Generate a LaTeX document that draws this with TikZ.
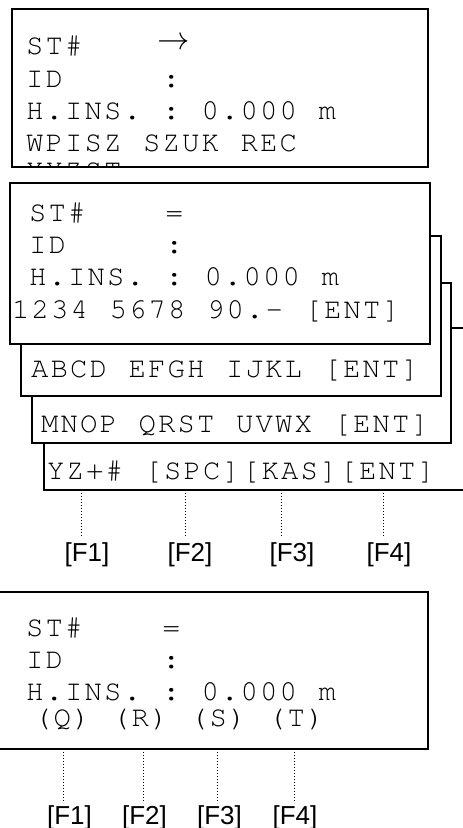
\documentclass[tikz,border=0pt]{standalone}
\usepackage{fontspec}
\setsansfont{Liberation Sans}
\newfontfamily\lcdfont{TeX Gyre Cursor}
\ExplSyntaxOn
\NewDocumentCommand\lcd{m}{\tl_map_inline:nn {#1} {\makebox[19.5pt][c]{##1}}}
\ExplSyntaxOff
\tikzset{
  lcdtext/.style={font=\lcdfont\fontsize{29}{29}\selectfont, anchor=base west, inner sep=0pt, outer sep=0pt},
  fkey/.style={font=\sffamily\fontsize{26}{26}\selectfont, anchor=base, inner sep=0pt},
  frameA/.style={draw, line width=2pt, fill=white},
  frameB/.style={draw, line width=1.3pt, fill=white},
  dots/.style={dotted, line width=1pt}
}
\begin{document}
\begin{tikzpicture}[x=1pt,y=-1pt]
\useasboundingbox (0,0) rectangle (463,828);
% ---------- screen 1 ----------
\fill[white] (12,9) rectangle (428,167);
\begin{scope}
\clip (12,9) rectangle (428,167);
\node[lcdtext] (a1) at (25,54) {\lcd{ST\#}};
\node[inner sep=0pt] (a1arr) at (173.5,44) {\fontsize{26}{26}\selectfont\scalebox{1.3}{$\rightarrow$}};
\node[lcdtext] (a2) at (25,87) {\lcd{ID\ \ \ \ \ :}};
\node[lcdtext] (a3) at (25,119) {\lcd{H.INS.\ :\ 0.000\ m}};
\node[lcdtext] (a4) at (25,151) {\lcd{WPISZ\ SZUK\ REC}};
\node[lcdtext] (a5) at (25,179) {\lcd{XYZST}};
\end{scope}
\draw[line width=2pt] (12,9) rectangle (428,167);
% ---------- screen 2 stack ----------
\draw[frameB] (44,328) rectangle (475,490);
\node[lcdtext] (d1) at (46,479) {\lcd{YZ+\#\ [SPC][KAS][ENT]}};
\draw[frameB] (32,283) rectangle (451,443);
\node[lcdtext] (c1) at (40,432) {\lcd{MNOP\ QRST\ UVWX\ [ENT]}};
\draw[frameB] (21,236) rectangle (441,396);
\node[lcdtext] (b1) at (30,377) {\lcd{ABCD\ EFGH\ IJKL\ [ENT]}};
\draw[frameB] (10,183) rectangle (430,344);
\node[lcdtext] (e1) at (28,221) {\lcd{ST\#\ \ \ \ =}};
\node[lcdtext] (e2) at (28,253) {\lcd{ID\ \ \ \ \ :}};
\node[lcdtext] (e3) at (28,285) {\lcd{H.INS.\ :\ 0.000\ m}};
\node[lcdtext] (e4) at (11,318) {\lcd{1234\ 5678\ 90.-\ [ENT]}};
% keys
\coordinate (s1) at (81,490);  \coordinate (t1) at (81,537);
\coordinate (s2) at (185,490); \coordinate (t2) at (185,537);
\coordinate (s3) at (281,490); \coordinate (t3) at (281,537);
\coordinate (s4) at (383,490); \coordinate (t4) at (383,537);
\draw[dots] (s1) -- (t1); \draw[dots] (s2) -- (t2);
\draw[dots] (s3) -- (t3); \draw[dots] (s4) -- (t4);
\node[fkey] (f1) at (87,561) {[F1]};
\node[fkey] (f2) at (190,561) {[F2]};
\node[fkey] (f3) at (292,561) {[F3]};
\node[fkey] (f4) at (389,561) {[F4]};
% ---------- screen 3 ----------
\draw[frameA] (-5,592) rectangle (428,749);
\node[lcdtext] (g1) at (25,636) {\lcd{ST\#\ \ \ \ =}};
\node[lcdtext] (g2) at (25,668) {\lcd{ID\ \ \ \ \ :}};
\node[lcdtext] (g3) at (25,700) {\lcd{H.INS.\ :\ 0.000\ m}};
\node[lcdtext] (g4) at (33,726) {\lcd{(Q)\ (R)\ (S)\ (T)}};
\coordinate (u1) at (63,749);  \coordinate (v1) at (63,803);
\coordinate (u2) at (143,749); \coordinate (v2) at (143,803);
\coordinate (u3) at (217,749); \coordinate (v3) at (217,803);
\coordinate (u4) at (294,749); \coordinate (v4) at (294,803);
\draw[dots] (u1) -- (v1); \draw[dots] (u2) -- (v2);
\draw[dots] (u3) -- (v3); \draw[dots] (u4) -- (v4);
\node[fkey] (h1) at (69.5,824) {[F1]};
\node[fkey] (h2) at (144.5,824) {[F2]};
\node[fkey] (h3) at (219.5,824) {[F3]};
\node[fkey] (h4) at (295,824) {[F4]};
\end{tikzpicture}
\end{document}
